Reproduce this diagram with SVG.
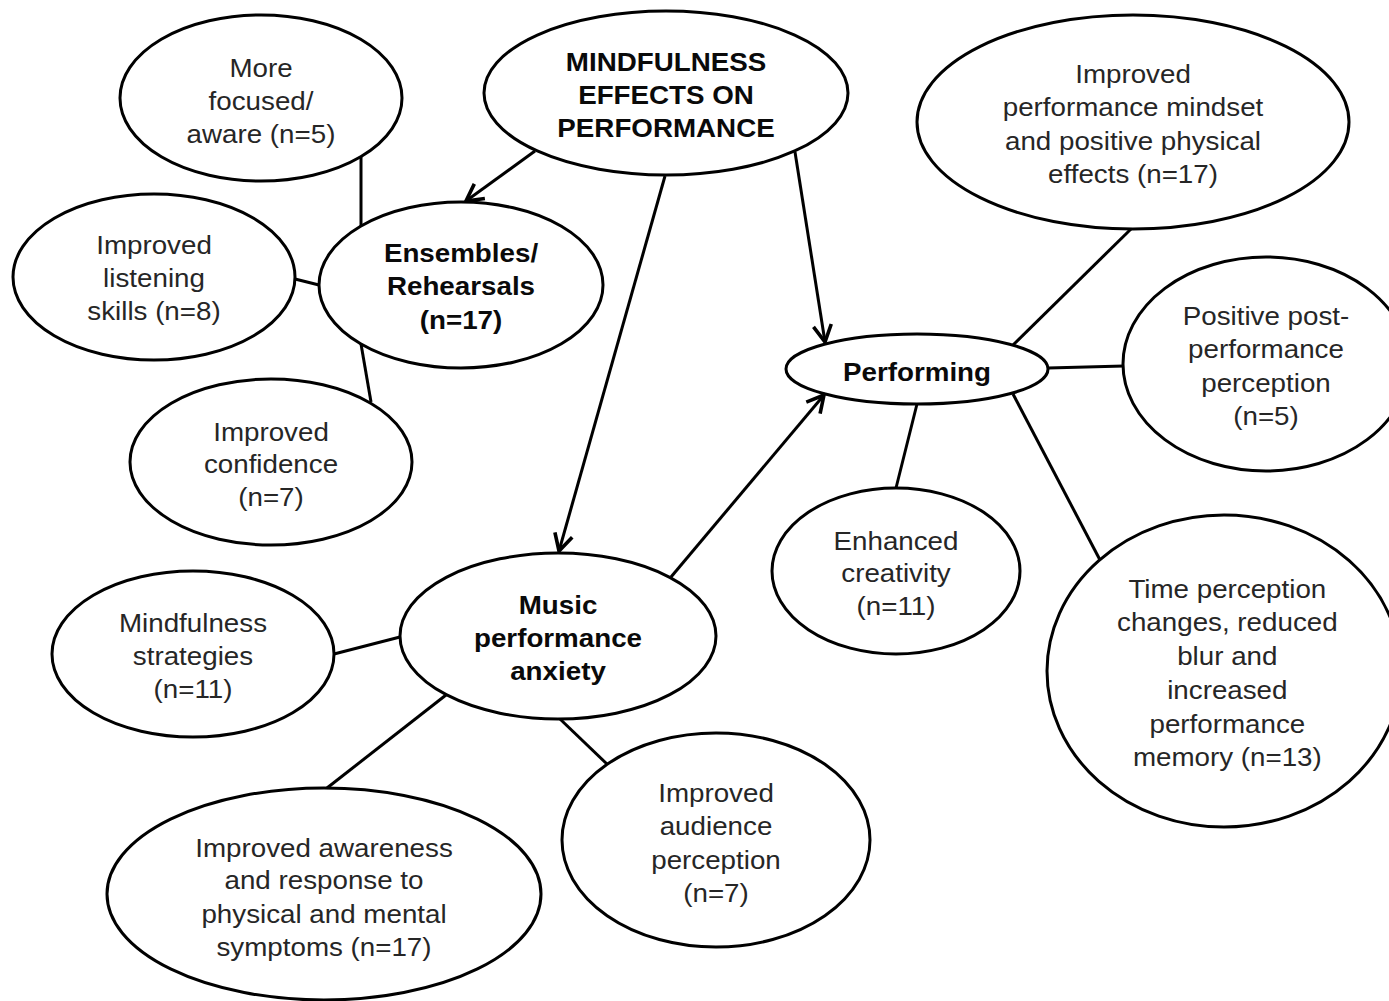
<svg xmlns="http://www.w3.org/2000/svg" width="1389" height="1001" viewBox="0 0 1389 1001">
  <style>
    .node ellipse { fill: #fff; stroke: #000; stroke-width: 3; }
    .node text { font-family: "Liberation Sans", Arial, sans-serif; font-size: 25px; fill: #262626; text-anchor: middle; transform: scaleX(1.11); }
    .node text.b { font-weight: bold; fill: #0a0a0a; }
    .edges line { stroke: #000; stroke-width: 3; fill: none; }
    .edges line.arrow { marker-end: url(#open-arrow); }
  </style>
  <defs>
    <marker id="open-arrow" markerUnits="userSpaceOnUse" markerWidth="24" markerHeight="24" viewBox="-18 -10 20 20" refX="0" refY="0" orient="auto">
      <path d="M-14,-7.5 L0,0 L-14,7.5" fill="none" stroke="#000" stroke-width="3" stroke-linejoin="miter"/>
    </marker>
  </defs>
  <rect width="1389" height="1001" fill="#fff"/>

  <!-- central topic -->
  <g id="mindfulness-effects" class="node" transform="translate(666 93)">
    <ellipse rx="182" ry="82"/>
    <text class="b" y="-22">MINDFULNESS</text>
    <text class="b" y="11">EFFECTS ON</text>
    <text class="b" y="44">PERFORMANCE</text>
  </g>

  <!-- ensembles / rehearsals branch -->
  <g id="ensembles" class="node" transform="translate(461 285)">
    <ellipse rx="142" ry="83"/>
    <text class="b" y="-23">Ensembles/</text>
    <text class="b" y="10">Rehearsals</text>
    <text class="b" y="44">(n=17)</text>
  </g>
  <g id="more-focused" class="node" transform="translate(261 98)">
    <ellipse rx="141" ry="83"/>
    <text y="-21">More</text>
    <text y="12">focused/</text>
    <text y="45">aware (n=5)</text>
  </g>
  <g id="listening" class="node" transform="translate(154 277)">
    <ellipse rx="141" ry="83"/>
    <text y="-23">Improved</text>
    <text y="10">listening</text>
    <text y="43">skills (n=8)</text>
  </g>
  <g id="confidence" class="node" transform="translate(271 462)">
    <ellipse rx="141" ry="83"/>
    <text y="-21">Improved</text>
    <text y="11">confidence</text>
    <text y="44">(n=7)</text>
  </g>

  <!-- performing branch -->
  <g id="performing" class="node" transform="translate(917 369)">
    <ellipse rx="131" ry="35"/>
    <text class="b" y="12">Performing</text>
  </g>
  <g id="mindset" class="node" transform="translate(1133 122)">
    <ellipse rx="216" ry="107"/>
    <text y="-39">Improved</text>
    <text y="-6">performance mindset</text>
    <text y="28">and positive physical</text>
    <text y="61">effects (n=17)</text>
  </g>
  <g id="post-performance" class="node" transform="translate(1266 364)">
    <ellipse rx="143" ry="107"/>
    <text y="-39">Positive post-</text>
    <text y="-6">performance</text>
    <text y="28">perception</text>
    <text y="61">(n=5)</text>
  </g>
  <g id="creativity" class="node" transform="translate(896 571)">
    <ellipse rx="124" ry="83"/>
    <text y="-21">Enhanced</text>
    <text y="11">creativity</text>
    <text y="44">(n=11)</text>
  </g>
  <g id="time-perception" class="node" transform="translate(1224 671)">
    <ellipse rx="177" ry="156"/>
    <text x="3" y="-73">Time perception</text>
    <text x="3" y="-40">changes, reduced</text>
    <text x="3" y="-6">blur and</text>
    <text x="3" y="28">increased</text>
    <text x="3" y="62">performance</text>
    <text x="3" y="95">memory (n=13)</text>
  </g>

  <!-- music performance anxiety branch -->
  <g id="anxiety" class="node" transform="translate(558 636)">
    <ellipse rx="158" ry="83"/>
    <text class="b" y="-22">Music</text>
    <text class="b" y="11">performance</text>
    <text class="b" y="44">anxiety</text>
  </g>
  <g id="strategies" class="node" transform="translate(193 654)">
    <ellipse rx="141" ry="83"/>
    <text y="-22">Mindfulness</text>
    <text y="11">strategies</text>
    <text y="44">(n=11)</text>
  </g>
  <g id="audience" class="node" transform="translate(716 840)">
    <ellipse rx="154" ry="107"/>
    <text y="-38">Improved</text>
    <text y="-5">audience</text>
    <text y="29">perception</text>
    <text y="62">(n=7)</text>
  </g>
  <g id="awareness" class="node" transform="translate(324 894)">
    <ellipse rx="217" ry="106"/>
    <text y="-37">Improved awareness</text>
    <text y="-5">and response to</text>
    <text y="29">physical and mental</text>
    <text y="62">symptoms (n=17)</text>
  </g>

  <!-- connectors -->
  <g id="connectors" class="edges">
    <line class="arrow" x1="535" y1="151" x2="466" y2="201"/>
    <line class="arrow" x1="665" y1="176" x2="559" y2="551"/>
    <line class="arrow" x1="795" y1="152" x2="825" y2="342"/>
    <line class="arrow" x1="671" y1="577" x2="824" y2="395"/>
    <line x1="361" y1="157" x2="361" y2="226"/>
    <line x1="295" y1="279" x2="319" y2="285"/>
    <line x1="361" y1="344" x2="371" y2="402"/>
    <line x1="1131" y1="229" x2="1013" y2="345"/>
    <line x1="1048" y1="368" x2="1124" y2="366"/>
    <line x1="917" y1="404" x2="896" y2="488"/>
    <line x1="1013" y1="394" x2="1100" y2="560"/>
    <line x1="334" y1="654" x2="400" y2="637"/>
    <line x1="446" y1="695" x2="327" y2="788"/>
    <line x1="560" y1="719" x2="607" y2="764"/>
  </g>
</svg>
